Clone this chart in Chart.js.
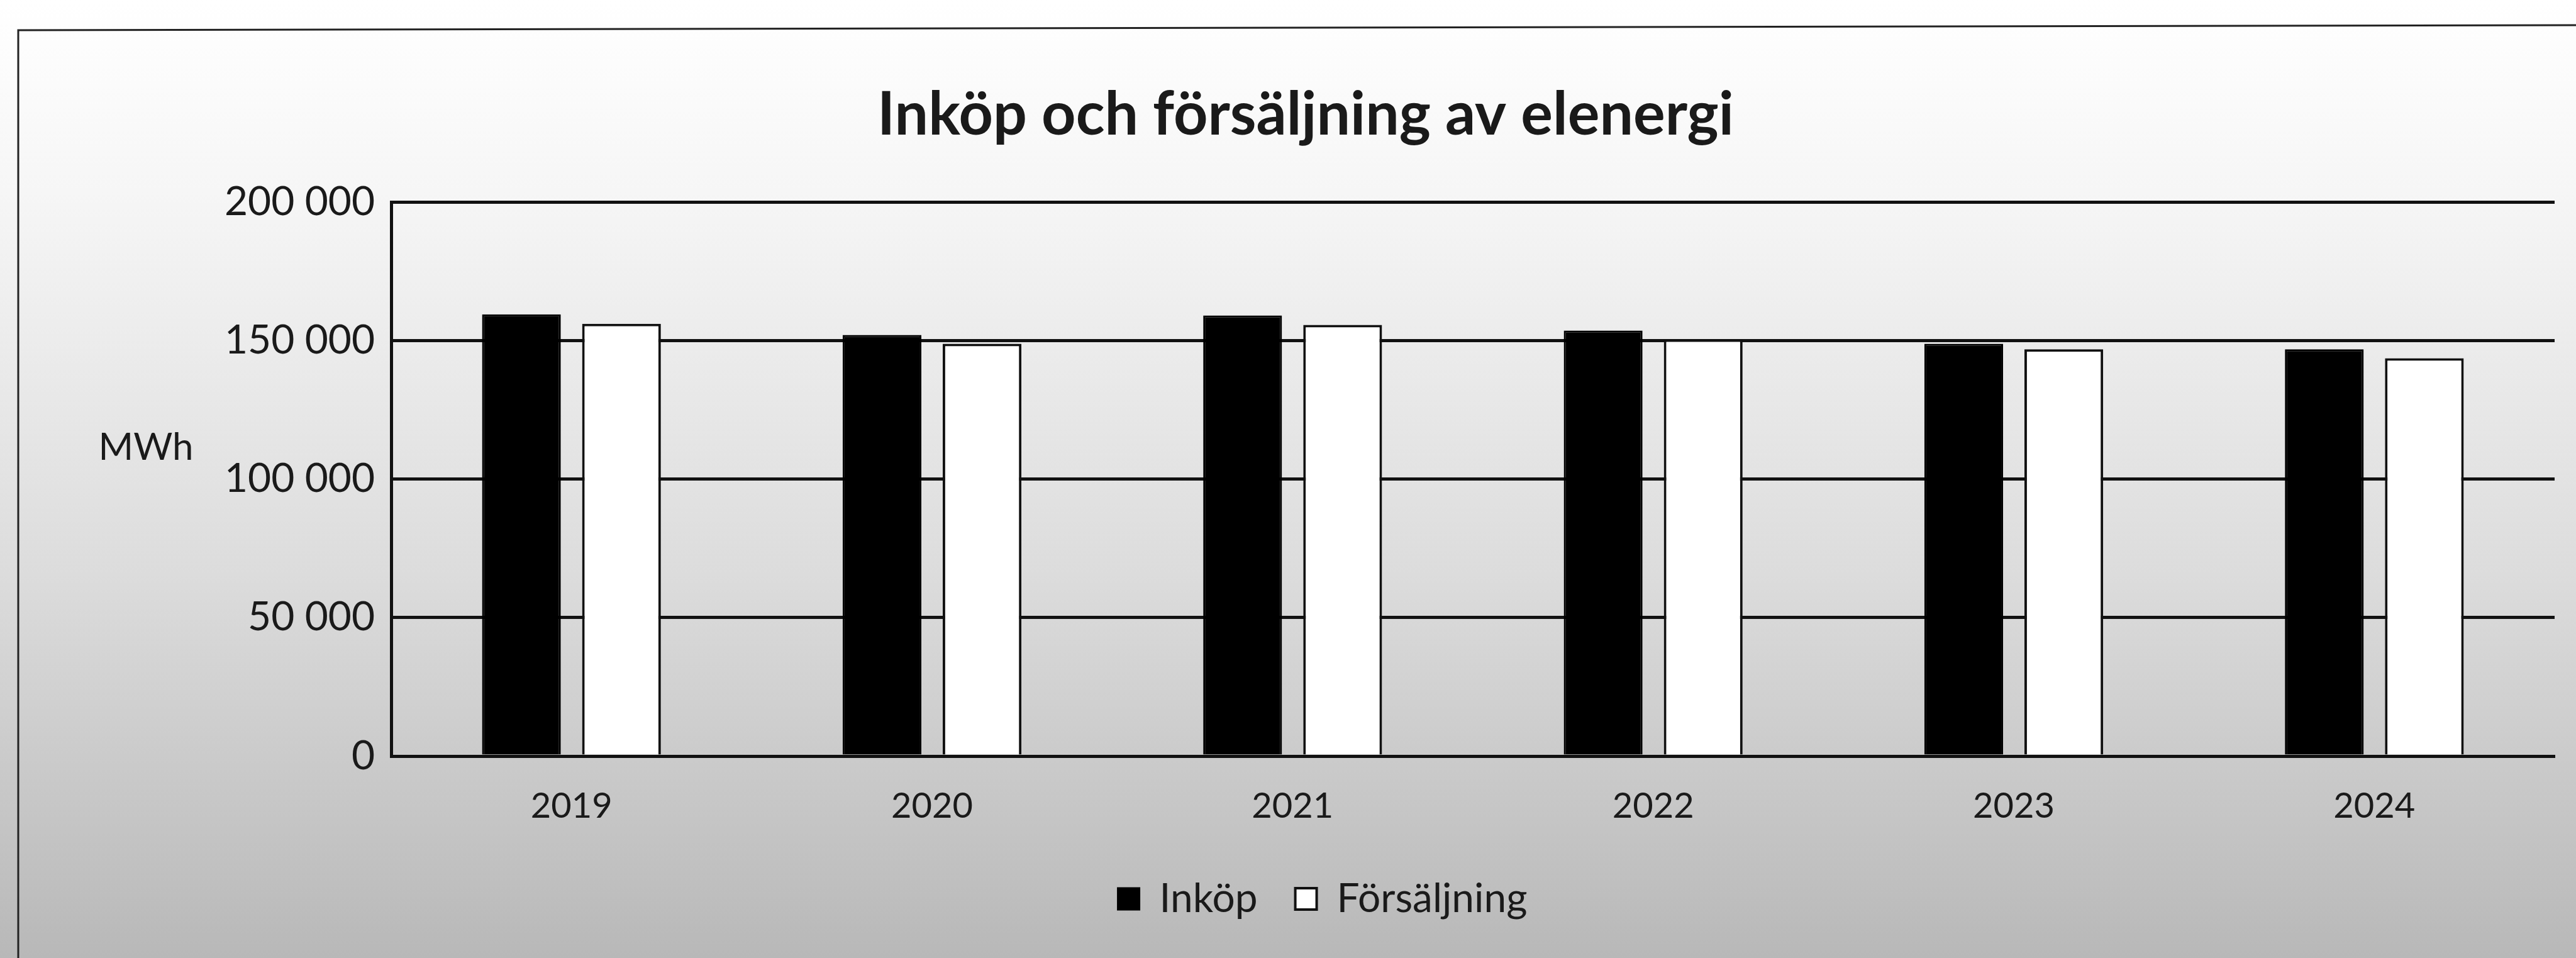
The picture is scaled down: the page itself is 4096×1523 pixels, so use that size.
<!DOCTYPE html>
<html>
<head>
<meta charset="utf-8">
<script src="https://cdn.jsdelivr.net/npm/chart.js@4"></script>
<style>
html, body { margin: 0; padding: 0; background: #fff; }
#wrap { width: 4096px; height: 1523px; }
</style>
</head>
<body>
<div id="wrap"><canvas id="elChart" width="4096" height="1523"></canvas></div>
<script>
// data (MWh)
const years = ["2019", "2020", "2021", "2022", "2023", "2024"];
const inkop = [159400, 152000, 159000, 153600, 148800, 146800];
const forsaljning = [156000, 148800, 155600, 150400, 146800, 143600];
const yMax = 200000;
const yStep = 50000;

Chart.defaults.font.family = "Lato";
Chart.defaults.color = "#1a1a1a";

function fmt(v) {
    return v.toString().replace(/\B(?=(\d{3})+(?!\d))/g, " ");
}

// paper tone + frame of the scanned chart
const paper = {
    id: 'paper',
    afterLayout(chart) {
        // title and legend sit a bit right of the canvas centre in the original
        if (chart.legend) { chart.legend.left += 72; chart.legend.right += 72; }
        if (chart.titleBlock) { chart.titleBlock.left += 45; chart.titleBlock.right += 45; }
    },
    beforeDraw(chart) {
        let ctx = chart.ctx;
        let g = ctx.createLinearGradient(0, 0, 0, chart.height);
        g.addColorStop(0, "#ffffff");
        g.addColorStop(0.2, "#f6f6f6");
        g.addColorStop(0.6, "#dcdcdc");
        g.addColorStop(1, "#b8b8b8");
        ctx.save();
        ctx.fillStyle = g;
        ctx.fillRect(0, 0, chart.width, chart.height);
        ctx.strokeStyle = "#222";
        ctx.lineWidth = 3;
        ctx.beginPath();
        ctx.moveTo(29, chart.height);
        ctx.lineTo(29, 48);
        ctx.lineTo(chart.width, 40);
        ctx.stroke();
        ctx.restore();
    },
    afterDraw(chart) {
        let ctx = chart.ctx;
        ctx.save();
        ctx.font = "60px Lato";
        ctx.fillStyle = "#1a1a1a";
        ctx.textAlign = "center";
        ctx.textBaseline = "middle";
        ctx.fillText("MWh", 232, 712);
        ctx.restore();
    }
};

let ctx = document.getElementById("elChart").getContext('2d');
new Chart(ctx, {
    type: 'bar',
    data: {
        labels: years,
        datasets: [{
            label: "Inköp",
            data: inkop,
            backgroundColor: "#000000",
            borderColor: "#000000",
            borderWidth: 3,
            categoryPercentage: 0.555,
            barPercentage: 0.787
        }, {
            label: "Försäljning",
            data: forsaljning,
            backgroundColor: "#ffffff",
            borderColor: "#111111",
            borderWidth: 4,
            categoryPercentage: 0.555,
            barPercentage: 0.787
        }]
    },
    options: {
        responsive: false,
        animation: false,
        devicePixelRatio: 1,
        layout: { padding: { left: 0, right: 34, top: 0, bottom: 52 } },
        plugins: {
            title: {
                display: true,
                text: "Inköp och försäljning av elenergi",
                font: { size: 95, weight: 'bold' },
                color: "#1a1a1a",
                padding: { top: 126, bottom: 81 }
            },
            legend: {
                position: 'bottom',
                labels: {
                    font: { size: 64 },
                    color: "#1a1a1a",
                    boxWidth: 34,
                    boxHeight: 34,
                    padding: 60
                }
            },
            tooltip: { enabled: false }
        },
        scales: {
            x: {
                grid: { display: false },
                border: { display: true, color: "#111", width: 5 },
                ticks: { font: { size: 56 }, color: "#1a1a1a", padding: 38 },
                afterFit: function(s) { s.height = 135; }
            },
            y: {
                min: 0,
                max: yMax,
                ticks: {
                    stepSize: yStep,
                    padding: 26,
                    font: { size: 64 },
                    color: "#1a1a1a",
                    callback: function(v) { return fmt(v); }
                },
                grid: { color: "#111", lineWidth: 5, drawTicks: false },
                border: { display: true, color: "#111", width: 5 },
                afterFit: function(s) { s.width = 622; }
            }
        }
    },
    plugins: [paper]
});
</script>
</body>
</html>
